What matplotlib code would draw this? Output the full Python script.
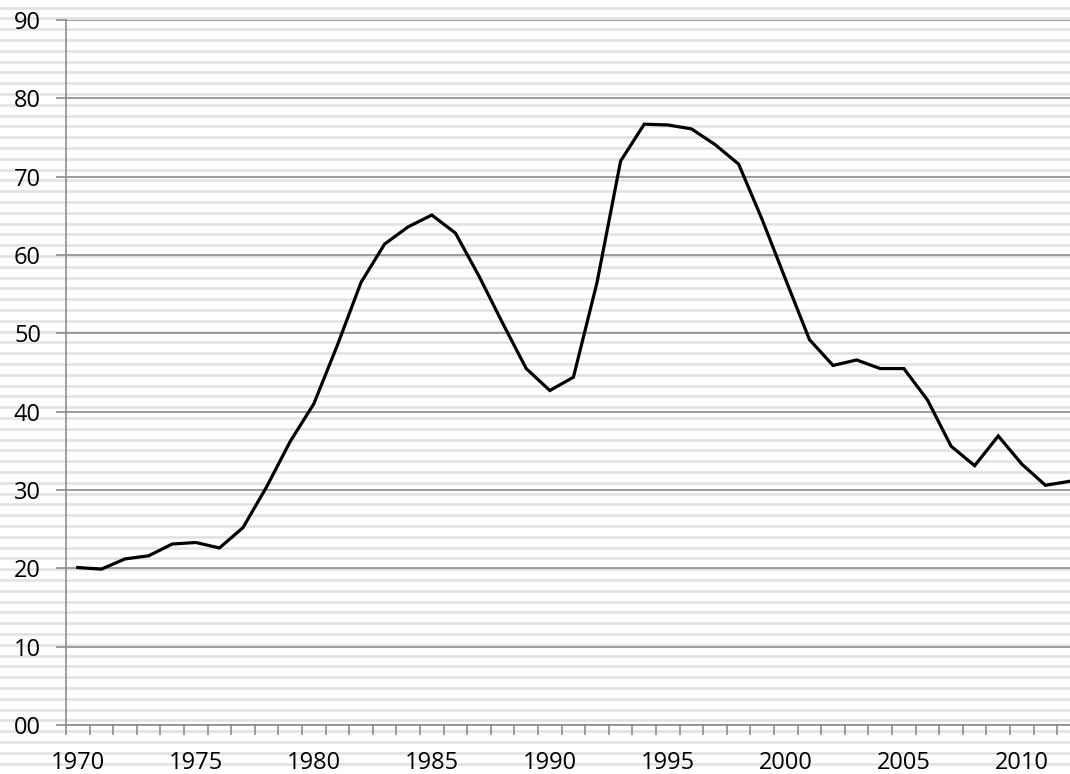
import numpy as np
from matplotlib import pyplot as plt

# yearly values
years = list(range(1970, 2013))
values = [20.1, 19.9, 21.2, 21.6, 23.1, 23.3, 22.6, 25.2, 30.4, 36.2,
          41.0, 48.5, 56.5, 61.4, 63.6, 65.1, 62.8, 57.3, 51.3, 45.5,
          42.7, 44.4, 56.5, 72.0, 76.7, 76.6, 76.1, 74.1, 71.6, 64.5,
          56.8, 49.2, 45.9, 46.6, 45.5, 45.5, 41.5, 35.6, 33.1, 36.9,
          33.3, 30.6, 31.1]
label_years = [1970, 1975, 1980, 1985, 1990, 1995, 2000, 2005, 2010]
y_ticks = [0, 10, 20, 30, 40, 50, 60, 70, 80, 90]

W, H = 1070, 774
fig = plt.figure(figsize=(W / 100, H / 100), dpi=100)
fig.patch.set_facecolor('white')

# striped page background
bg = fig.add_axes([0, 0, 1, 1], zorder=0)
bg.set_xlim(0, W)
bg.set_ylim(H, 0)
bg.axis('off')
for yy in np.arange(7.6, H, 10.8):
    bg.axhline(yy, color='#e2e2e2', lw=1.9)

gray = '#8c8c8c'
ax = fig.add_axes([66 / W, (H - 725) / H, (W - 66) / W, 705 / H], zorder=1)
ax.patch.set_alpha(0)

ax.plot(years, values, color='black', lw=2.3, solid_joinstyle='miter', zorder=3)

ax.set_xlim(1969.5, 2012.04)
ax.set_ylim(0, 90)
ax.set_yticks(y_ticks)
ax.set_yticklabels([f'{v:02d}' for v in y_ticks])
ax.set_xticks(label_years)
ax.set_xticks(np.arange(1969.5, 2012, 1), minor=True)
ax.grid(axis='y', color=gray, lw=1.2, zorder=1)
ax.set_axisbelow(True)

for s in ['top', 'right']:
    ax.spines[s].set_visible(False)
for s in ['left', 'bottom']:
    ax.spines[s].set_color(gray)
    ax.spines[s].set_linewidth(1.2)

ax.tick_params(axis='y', length=7, width=1.2, color=gray, pad=11,
               labelsize=17)
ax.tick_params(axis='x', which='major', length=0, pad=19, labelsize=17)
ax.tick_params(axis='x', which='minor', length=7, width=1.2, color=gray)
for lab in ax.get_xticklabels() + ax.get_yticklabels():
    lab.set_fontfamily('Open Sans')

fig.savefig('out.png', dpi=100)
